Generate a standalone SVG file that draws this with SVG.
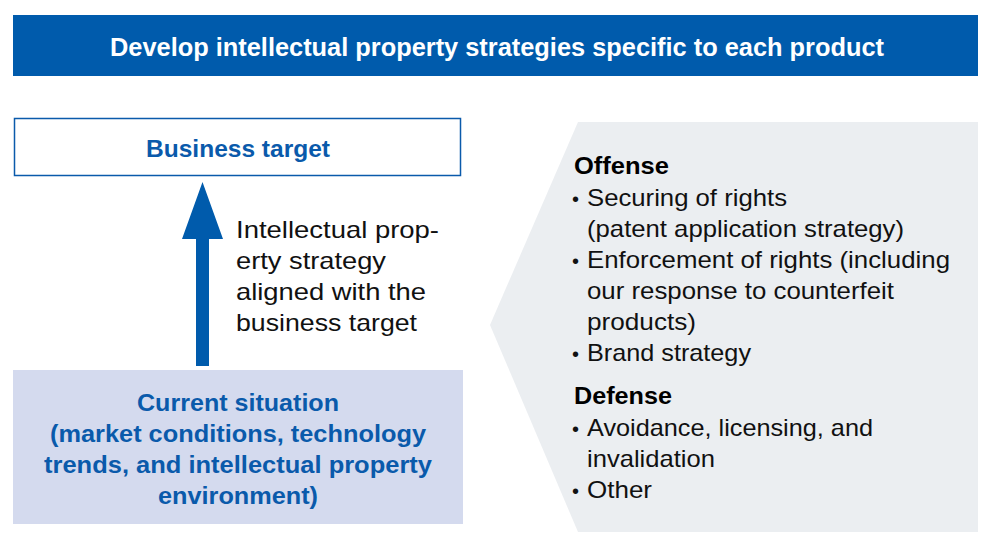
<svg xmlns="http://www.w3.org/2000/svg" width="991" height="549" viewBox="0 0 991 549">
<style>
text{font-family:"Liberation Sans",Arial,sans-serif}
.title{font-size:25px;font-weight:bold;fill:#fff}
.blue{font-size:24px;font-weight:bold;fill:#0A5AAB}
.body{font-size:24px;fill:#111}
.hd{font-size:24px;font-weight:bold;fill:#000}
.bul{font-size:20px;fill:#111}
</style>
<rect width="991" height="549" fill="#fff"/>
<g id="banner">
<rect x="13" y="15" width="965" height="61" fill="#005BAC"/>
<text class="title" x="110" y="56" textLength="774" lengthAdjust="spacingAndGlyphs">Develop intellectual property strategies specific to each product</text>
</g>
<g id="business-target">
<rect x="14.5" y="118.5" width="446" height="57" fill="#fff" stroke="#0A5AAB" stroke-width="1.5"/>
<text class="blue" x="146" y="157" textLength="184" lengthAdjust="spacingAndGlyphs">Business target</text>
</g>
<g id="current-situation">
<rect x="13" y="370" width="450" height="154" fill="#D4DAEE"/>
<text class="blue" x="137" y="411" textLength="202" lengthAdjust="spacingAndGlyphs">Current situation</text>
<text class="blue" x="50" y="442" textLength="376" lengthAdjust="spacingAndGlyphs">(market conditions, technology</text>
<text class="blue" x="44" y="473" textLength="388" lengthAdjust="spacingAndGlyphs">trends, and intellectual property</text>
<text class="blue" x="158" y="504" textLength="160" lengthAdjust="spacingAndGlyphs">environment)</text>
</g>
<g id="connectors">
<polygon points="196,366 209,366 209,239 223,239 202.5,182 182,239 196,239" fill="#005BAC"/>
<text class="body" x="236" y="238" textLength="203" lengthAdjust="spacingAndGlyphs">Intellectual prop-</text>
<text class="body" x="236" y="269" textLength="150" lengthAdjust="spacingAndGlyphs">erty strategy</text>
<text class="body" x="236" y="300" textLength="190" lengthAdjust="spacingAndGlyphs">aligned with the</text>
<text class="body" x="236" y="331" textLength="181" lengthAdjust="spacingAndGlyphs">business target</text>
</g>
<g id="strategies">
<polygon points="578,122 978,122 978,532 578,532 490,325" fill="#EBEEF1"/>
<text class="hd" x="574" y="174" textLength="95" lengthAdjust="spacingAndGlyphs">Offense</text>
<text class="bul" x="572" y="206">•</text>
<text class="body" x="587" y="206" textLength="200" lengthAdjust="spacingAndGlyphs">Securing of rights</text>
<text class="body" x="587" y="237" textLength="317" lengthAdjust="spacingAndGlyphs">(patent application strategy)</text>
<text class="bul" x="572" y="268">•</text>
<text class="body" x="587" y="268" textLength="363" lengthAdjust="spacingAndGlyphs">Enforcement of rights (including</text>
<text class="body" x="587" y="299" textLength="307" lengthAdjust="spacingAndGlyphs">our response to counterfeit</text>
<text class="body" x="587" y="330" textLength="109" lengthAdjust="spacingAndGlyphs">products)</text>
<text class="bul" x="572" y="361">•</text>
<text class="body" x="587" y="361" textLength="164" lengthAdjust="spacingAndGlyphs">Brand strategy</text>
<text class="hd" x="574" y="404" textLength="98" lengthAdjust="spacingAndGlyphs">Defense</text>
<text class="bul" x="572" y="436">•</text>
<text class="body" x="587" y="436" textLength="286" lengthAdjust="spacingAndGlyphs">Avoidance, licensing, and</text>
<text class="body" x="587" y="467" textLength="128" lengthAdjust="spacingAndGlyphs">invalidation</text>
<text class="bul" x="572" y="498">•</text>
<text class="body" x="587" y="498" textLength="65" lengthAdjust="spacingAndGlyphs">Other</text>
</g>
</svg>
